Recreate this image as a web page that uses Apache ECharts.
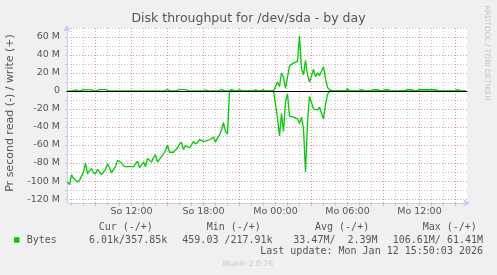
<!DOCTYPE html>
<html><head><meta charset="utf-8">
<script src="https://cdn.jsdelivr.net/npm/echarts@6/dist/echarts.min.js"></script>
<style>html,body{margin:0;padding:0;background:#f0f0f0;overflow:hidden}#c{width:497px;height:275px}</style>
</head><body><div id="c"></div>
<script>
// samples every 10 minutes, first sample So 06:40 (hours counted from So 00:00)
const startHour = 6 + 40 / 60;
const stepHour = 1 / 6;
const readMB = [
 -101,-104,-93,-97,-95,-101,-99,-97,-90,-80,
 -92,-89,-86,-91,-92,-87,-88,-93,-90,-87,
 -81,-85,-91,-93,-84,-77,-78,-80,-83,-84,
 -85,-84,-83,-84,-82,-78,-85,-82,-79,-84,
 -75,-76,-79,-74,-71,-79,-77,-73,-70,-66,
 -60,-68,-67,-68,-69,-63,-59,-57,-65,-61,
 -60,-63,-60,-56,-59,-57,-54,-56,-56,-54,
 -55,-56,-53,-51,-57,-52,-49,-43,-35,-45,
 -48,0,0,0,0,0,0,0,0,0,
 0,0,0,0,0,0,0,0,0,0,
 0,0,0,0,0,
 -30,-50,-25,-45,-12,-3,-28,-30,-29,-30,-31,-36,-29,-42,-90,-35,-6,-5,-20,-19,-21,-18,-20,-31,-15,-4,
 0,0,0,0,0,0,0,0,0,
 0,0,0,0,0,0,0,0,0,0,
 0,0,0,0,0,0,0,0,0,0,
 0,0,0,0,0,0,0,0,0,0,
 0,0,0,0,0,0,0,0,0,0,
 0,0,0,0,0,0,0,0,0,0,
 0,0,0,0,0,0,0,0,0,0
];
const writeMB = [
 0,0,0,1.2,1.2,1.2,0,0,1.5,1.5,
 1.2,1.2,1.2,0,0,1.5,1.5,1.5,1.5,1.5,
 1.2,0,0,0,0,0,1.2,0,0,0,
 0,0,0,0,0,0,0,0,0,0,
 0,0,0,0,0,0,0,0,0,0,
 1.5,0,0,0,0,1.5,1.5,1.5,1.5,1.5,
 1.5,0,1.2,0,0,0,1.2,0,0,1.2,
 0,0,0,0,0,0,0,1.5,1.5,0,
 0,0,1.5,0,0,0,1.2,1.2,0,0,
 0,0,0,0,1.2,0,0,1.5,1.5,0,
 0,0,0,0,0,
 10,5,20,15,3,5,28,30,31,32,33,61,25,18,34,18,10,12,24,16,20,17,16,27,14,4,
 1.2,1.2,0,0,0,0,0,0,0,
 2.5,0,0,0,0,0,1.5,1.5,1.5,0,
 0,0,1.5,1.5,1.5,1.5,0,0,1.5,1.5,
 1.5,0,0,0,0,1.2,0,0,0,0,
 1.5,1.5,1.5,1.5,0,1.5,1.5,1.5,1.5,1.5,
 1.5,1.5,1.5,1.5,1.5,1.5,0,0,0,1.2,
 0,0,0,0,1.5,1.5,0,0,1.2,0
];
const xStartHour = 6.625, xEndHour = 39.9583;
const xLabelHours = [12, 18, 24, 30, 36];
const xLabelTexts = ['So 12:00', 'So 18:00', 'Mo 00:00', 'Mo 06:00', 'Mo 12:00'];
const xGridHours = [];
for (let h = 7; h <= 39; h++) xGridHours.push(h);
const yLabelValues = [-120, -100, -80, -60, -40, -20, 0, 20, 40, 60];
const yGridValues = [];
for (let v = -120; v <= 70; v += 10) yGridValues.push(v);
const legendHeaders = ['Cur (-/+)', 'Min (-/+)', 'Avg (-/+)', 'Max (-/+)'];
const legendValues = ['6.01k/357.85k', '459.03 /217.91k', '33.47M/  2.39M', '106.61M/ 61.41M'];

const toPairs = arr => arr.map((v, i) => [startHour + i * stepHour, v]);

const MINOR = '#c8c8c8', MAJOR = '#e09a9a', AXIS = '#c8ccf0', TXT = '#555555';
const SANS = 'DejaVu Sans', MONO = 'DejaVu Sans Mono';
const G = {left: 67, right: 30, top: 28, bottom: 72};

const chart = echarts.init(document.getElementById('c'), null, {renderer: 'canvas'});
const headerX = [98.7, 206.7, 315, 422.7];
const valueX = [89, 182.3, 293.3, 392.7];
const graphic = [
  {type: 'rect', z: -10, silent: true, shape: {x: G.left, y: G.top, width: 497 - G.left - G.right, height: 275 - G.top - G.bottom}, style: {fill: '#ffffff'}},
  {type: 'text', x: 248.5, y: 19, style: {text: 'Disk throughput for /dev/sda - by day', font: '12.5px "' + SANS + '"', fill: TXT, textAlign: 'center', textVerticalAlign: 'middle'}},
  {type: 'text', x: 10, y: 113, rotation: Math.PI / 2, style: {text: 'Pr second read (-) / write (+)', font: '11px "' + SANS + '"', fill: TXT, textAlign: 'center', textVerticalAlign: 'middle'}},
  {type: 'text', x: 487, y: 53, rotation: -Math.PI / 2, style: {text: 'RRDTOOL / TOBI OETIKER', font: '7.4px "' + SANS + '"', fill: '#c4c4c4', textAlign: 'center', textVerticalAlign: 'middle'}},
  {type: 'rect', shape: {x: 14, y: 237.2, width: 5.5, height: 5.5}, style: {fill: '#00cc00'}},
  {type: 'text', x: 26.7, y: 240, style: {text: 'Bytes', font: '10px "' + MONO + '"', fill: TXT, textVerticalAlign: 'middle'}},
  {type: 'text', x: 483, y: 251.8, style: {text: 'Last update: Mon Jan 12 15:50:03 2026', font: '10px "' + MONO + '"', fill: TXT, textAlign: 'right', textVerticalAlign: 'middle'}},
  {type: 'text', x: 248, y: 264, style: {text: 'Munin 2.0.76', font: '7.7px "' + SANS + '"', fill: '#c8c8c8', textAlign: 'center', textVerticalAlign: 'middle'}}
];
legendHeaders.forEach((t, i) => graphic.push({type: 'text', x: headerX[i], y: 227.6, style: {text: t, font: '10px "' + MONO + '"', fill: TXT, textVerticalAlign: 'middle'}}));
legendValues.forEach((t, i) => graphic.push({type: 'text', x: valueX[i], y: 240, style: {text: t, font: '10px "' + MONO + '"', fill: TXT, textVerticalAlign: 'middle'}}));

chart.setOption({
  animation: false,
  backgroundColor: '#f0f0f0',
  grid: Object.assign({show: false}, G),
  xAxis: [{
    type: 'value', min: xStartHour, max: xEndHour, position: 'bottom',
    axisLine: {show: true, onZero: false, lineStyle: {color: AXIS, width: 1}, symbol: ['none', 'arrow'], symbolSize: [6, 7], symbolOffset: [0, 3]},
    axisTick: {show: true, length: 3, customValues: xGridHours, lineStyle: {color: '#c8c8c8'}},
    axisLabel: {show: true, customValues: xLabelHours, margin: 4, fontFamily: SANS, fontSize: 9.5, color: TXT,
      formatter: v => xLabelTexts[xLabelHours.indexOf(v)] || ''},
    splitLine: {show: true, showMinLine: true, showMaxLine: true, lineStyle: {color: [MINOR, MINOR, MAJOR], type: [1, 2], width: 1}}
  }, {
    type: 'value', min: xStartHour, max: xEndHour, position: 'top', z: 10,
    axisLine: {show: true, onZero: true, lineStyle: {color: '#000000', width: 1}},
    axisTick: {show: false}, axisLabel: {show: false}, splitLine: {show: false}
  }],
  yAxis: {
    type: 'value', min: -124.4, max: 70,
    axisLine: {show: true, lineStyle: {color: AXIS, width: 1}, symbol: ['none', 'arrow'], symbolSize: [6, 7], symbolOffset: [0, 3]},
    axisTick: {show: true, length: 2, customValues: yGridValues, lineStyle: {color: '#c8c8c8'}},
    axisLabel: {show: true, customValues: yLabelValues, margin: 7, fontFamily: SANS, fontSize: 9.5, color: TXT,
      formatter: v => v === 0 ? '0' : v + ' M'},
    splitLine: {show: true, showMinLine: true, showMaxLine: true, lineStyle: {color: [MAJOR, MINOR], type: [1, 2], width: 1}}
  },
  series: [
    {name: 'read', type: 'line', xAxisIndex: 0, data: toPairs(readMB), showSymbol: false, symbol: 'none',
      lineStyle: {color: '#00cc00', width: 1.3}, itemStyle: {color: '#00cc00'}},
    {name: 'write', type: 'line', xAxisIndex: 0, data: toPairs(writeMB), showSymbol: false, symbol: 'none',
      lineStyle: {color: '#00cc00', width: 1.3}, itemStyle: {color: '#00cc00'}}
  ],
  graphic: graphic
});
</script>
</body></html>
